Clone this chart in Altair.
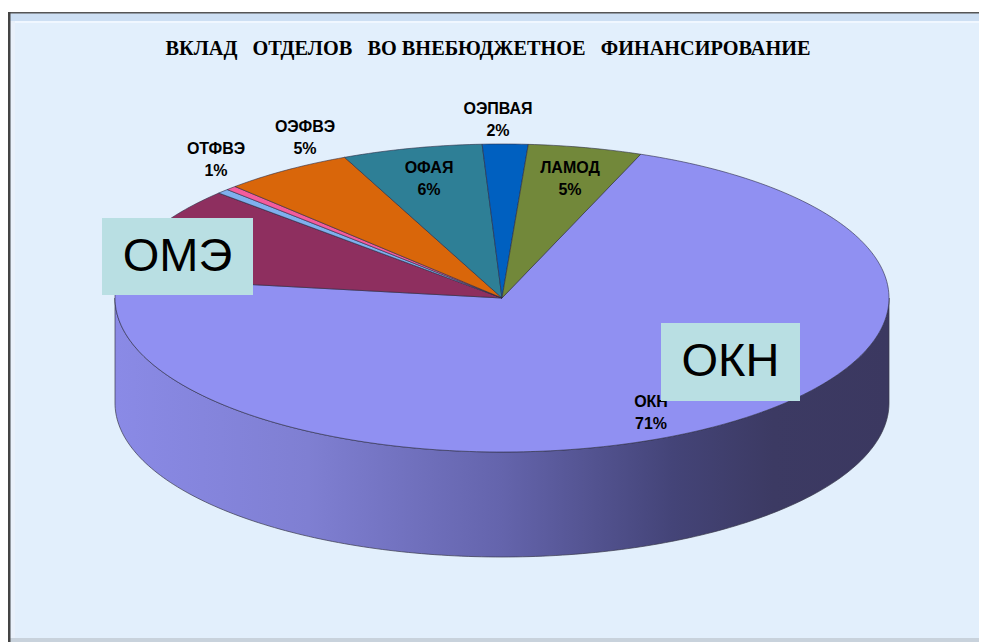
import math
import altair as alt

departments = ["ОКН", "ОМЭ", "ОТВ", "ОТФВЭ", "ОЭФВЭ", "ОФАЯ", "ОЭПВАЯ", "ЛАМОД"]
shares = [71.3, 9.8, 0.5, 0.45, 5.45, 5.85, 1.9, 4.75]
colors = ["#9090f2", "#8e2f5f", "#7fb0ee", "#f45c9c", "#d9660a", "#2e7f96", "#0060c0", "#72883a"]
start_angle = 21.0
cx, cy, rx, ry, depth = 502, 298, 387, 154, 105

label_names = ["ОТФВЭ", "ОЭФВЭ", "ОЭПВАЯ", "ОФАЯ", "ЛАМОД", "ОКН"]
label_pcts = ["1%", "5%", "2%", "6%", "5%", "71%"]
label_x = [216, 305, 498, 429, 570, 651]
label_y = [149, 127, 109, 168, 168, 402]
line_gap = 22

box_names = ["ОМЭ", "ОКН"]
box_x1 = [102, 661]
box_x2 = [253, 800]
box_y1 = [218, 323]
box_y2 = [295, 401]

side_stops = [(0, "#8a8ae6"), (0.25, "#7f7fd2"), (0.5, "#6464ac"), (0.72, "#444478"), (0.85, "#3c3a63"), (1, "#3b3860")]

def pt(a, dy=0):
    r = math.radians(a)
    return [cx + rx * math.sin(r), cy - ry * math.cos(r) + dy]

features = []
a = start_angle
total = sum(shares)
for name, s in zip(departments, shares):
    span = 360 * s / total
    n = max(2, int(span) + 1)
    ring = [[cx, cy]] + [pt(a + span * i / n) for i in range(n + 1)] + [[cx, cy]]
    features.append({"type": "Feature", "properties": {"dept": name},
                     "geometry": {"type": "Polygon", "coordinates": [ring]}})
    a += span

side_ring = [pt(d) for d in range(90, 271)] + [pt(d, depth) for d in range(270, 89, -1)]
side_ring.append(side_ring[0])
side_feature = [{"type": "Feature", "properties": {"dept": "side"},
                 "geometry": {"type": "Polygon", "coordinates": [side_ring]}}]

proj = dict(type="identity", scale=1, translate=[-8, -8])
X = lambda f: alt.X(f, scale=alt.Scale(domain=[8, 979]), axis=None)
Y = lambda f: alt.Y(f, scale=alt.Scale(domain=[642, 8]), axis=None)

frame = alt.Chart(alt.Data(values=[
    {"x1": 8, "x2": 979, "y1": 12, "y2": 642, "c": "#e2effc"},
    {"x1": 8, "x2": 979, "y1": 12, "y2": 21, "c": "#cddff3"},
    {"x1": 11, "x2": 979, "y1": 21, "y2": 23, "c": "#f0f7ff"},
    {"x1": 11, "x2": 15, "y1": 21, "y2": 642, "c": "#e9f1fb"},
    {"x1": 8, "x2": 979, "y1": 638, "y2": 642, "c": "#c8d2dc"},
    {"x1": 8, "x2": 979, "y1": 12, "y2": 13.5, "c": "#555555"},
    {"x1": 8, "x2": 10.5, "y1": 12, "y2": 642, "c": "#444444"},
])).mark_rect().encode(
    x=X("x1:Q"), x2="x2:Q", y=Y("y1:Q"), y2="y2:Q",
    color=alt.Color("c:N", scale=None),
)

side = alt.Chart(alt.Data(values=side_feature)).mark_geoshape(
    fill=alt.Gradient(gradient="linear", x1=0, x2=1, y1=0, y2=0,
                      stops=[alt.GradientStop(offset=o, color=c) for o, c in side_stops]),
    stroke="#3a3a4a", strokeWidth=0.7,
).project(**proj)

wedges = alt.Chart(alt.Data(values=features)).mark_geoshape(stroke="#2c2c44", strokeWidth=0.6).encode(
    color=alt.Color("properties.dept:N", legend=None,
                    scale=alt.Scale(domain=departments, range=colors))
).project(**proj)

title_text = "ВКЛАД\u00a0\u00a0\u00a0ОТДЕЛОВ\u00a0\u00a0\u00a0ВО ВНЕБЮДЖЕТНОЕ\u00a0\u00a0\u00a0ФИНАНСИРОВАНИЕ"
title = alt.Chart(alt.Data(values=[{"t": title_text, "x": 488, "y": 49}])).mark_text(
    font="Liberation Serif", fontWeight="bold", fontSize=20.3, color="#000000", baseline="middle", align="center"
).encode(x=X("x:Q"), y=Y("y:Q"), text="t:N")

rows = []
for n, p, x, y in zip(label_names, label_pcts, label_x, label_y):
    rows.append({"t": n, "x": x, "y": y})
    rows.append({"t": p, "x": x, "y": y + line_gap})
labels = alt.Chart(alt.Data(values=rows)).mark_text(
    font="Liberation Sans", fontWeight="bold", fontSize=16, color="#000000", baseline="middle", align="center"
).encode(x=X("x:Q"), y=Y("y:Q"), text="t:N")

box_rows = [{"t": n, "x1": a1, "x2": a2, "y1": b1, "y2": b2, "xm": (a1 + a2) / 2, "ym": (b1 + b2) / 2}
            for n, a1, a2, b1, b2 in zip(box_names, box_x1, box_x2, box_y1, box_y2)]
boxes = alt.Chart(alt.Data(values=box_rows)).mark_rect(color="#b9dfe3").encode(
    x=X("x1:Q"), x2="x2:Q", y=Y("y1:Q"), y2="y2:Q")
box_text = alt.Chart(alt.Data(values=box_rows)).mark_text(
    font="Liberation Sans", fontSize=47, color="#000000", baseline="middle", align="center"
).encode(x=X("xm:Q"), y=Y("ym:Q"), text="t:N")

chart = alt.layer(frame, side, wedges, title, labels, boxes, box_text).resolve_scale(
    color="independent"
).properties(
    width=971, height=634, padding=0, background="#ffffff",
    autosize=alt.AutoSizeParams(type="none"),
).configure_view(stroke=None)

chart.save("out.html", embed_options={"renderer": "svg", "actions": False})
